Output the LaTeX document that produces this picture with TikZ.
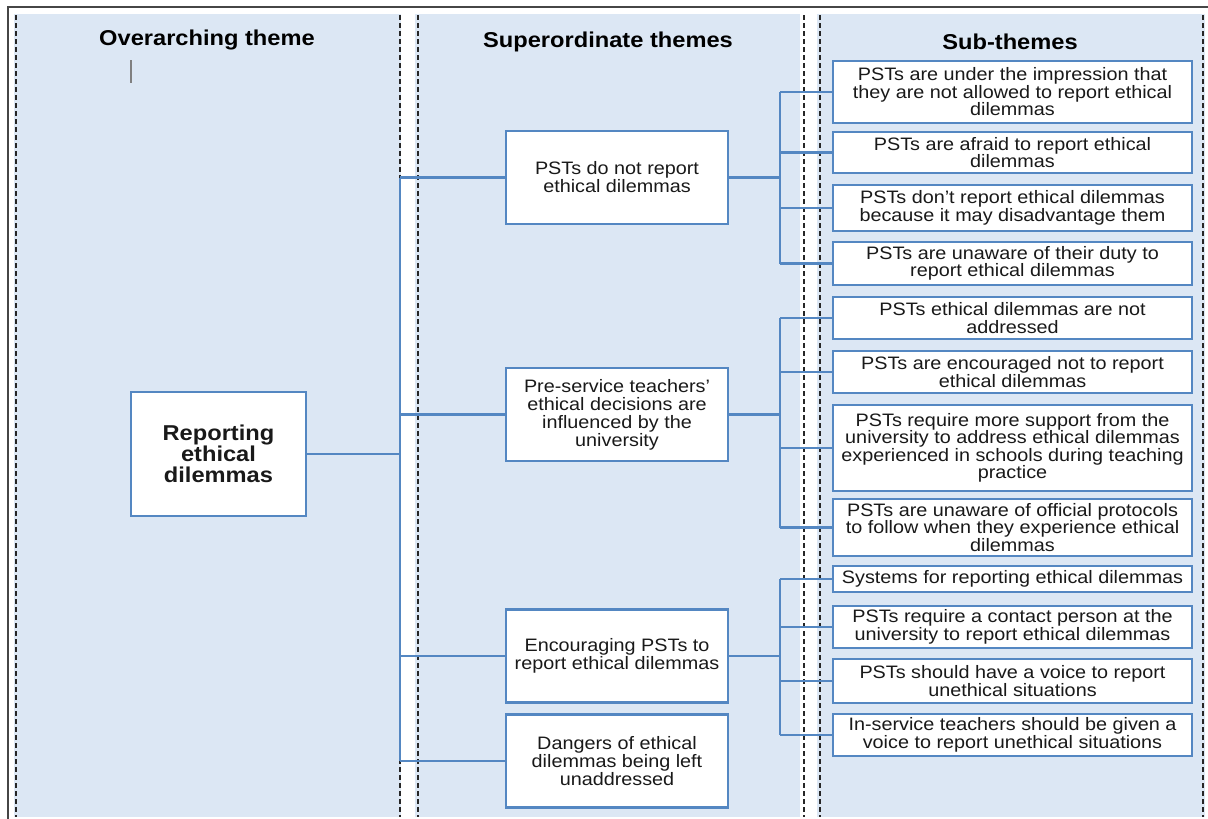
\documentclass[tikz,border=0pt]{standalone}
\usepackage{fontspec}
\setmainfont{Liberation Sans}[FakeStretch=1.1]
\definecolor{panel}{RGB}{220,231,244}
\definecolor{boxline}{RGB}{84,135,194}
\definecolor{framegray}{RGB}{70,70,70}

\begin{document}
\begin{tikzpicture}[x=1pt,y=-1pt,
  coldiv/.style={draw=black!85, line width=1.1pt, dash pattern=on 5pt off 3pt},
  hdr/.style={font=\fontsize{21.5}{24}\selectfont\bfseries, anchor=center},
  themebox/.style={draw=boxline, line width=2.6pt, fill=white, align=center,
    inner sep=1pt, text=black!90},
  mainbox/.style={themebox, font=\fontsize{21.5}{21}\selectfont\bfseries,
    minimum width=175pt, minimum height=124pt},
  supbox/.style={themebox, font=\fontsize{18}{18}\selectfont,
    minimum width=222pt, minimum height=93pt},
  subbox/.style={themebox, font=\fontsize{18}{17.5}\selectfont,
    minimum width=359pt},
  conn/.style={draw=boxline, line width=2.4pt},
]
\useasboundingbox (0,0) rectangle (1208,819);

% column panels
\fill[panel] (14,14) rectangle (401,817);
\fill[panel] (415,14) rectangle (800,817);
\fill[panel] (817,14) rectangle (1205,817);

% dashed column borders
\foreach \x in {16,400,418,804,820,1203}
  \draw[coldiv] (\x,15) -- (\x,817);

% outer frame (top and left edges)
\draw[framegray, line width=2pt] (8,819) -- (8,7) -- (1208,7);

% column headings
\node[hdr] (h1) at (207,40) {Overarching theme};
\node[hdr] (h2) at (608,42) {Superordinate themes};
\node[hdr] (h3) at (1010,42) {Sub-themes};
\draw[gray, line width=1.3pt] (131,60) -- (131,83);

% overarching theme
\node[mainbox] (main) at (218.5,454) {Reporting\\ethical\\dilemmas};

% superordinate themes
\node[supbox] (s1) at (617,177.5) {PSTs do not report\\ethical dilemmas};
\node[supbox] (s2) at (617,414.5) {Pre-service teachers’\\ethical decisions are\\influenced by the\\university};
\node[supbox] (s3) at (617,656) {Encouraging PSTs to\\report ethical dilemmas};
\node[supbox] (s4) at (617,761) {Dangers of ethical\\dilemmas being left\\unaddressed};

% sub-themes
\node[subbox, minimum height=62pt] (a) at (1012.5,92) {PSTs are under the impression that\\they are not allowed to report ethical\\dilemmas};
\node[subbox, minimum height=41pt] (b) at (1012.5,152.5) {PSTs are afraid to report ethical\\dilemmas};
\node[subbox, minimum height=46pt] (c) at (1012.5,208) {PSTs don’t report ethical dilemmas\\because it may disadvantage them};
\node[subbox, minimum height=43pt] (d) at (1012.5,263.5) {PSTs are unaware of their duty to\\report ethical dilemmas};

\node[subbox, minimum height=42pt] (e) at (1012.5,318) {PSTs ethical dilemmas are not\\addressed};
\node[subbox, minimum height=42pt] (f) at (1012.5,372) {PSTs are encouraged not to report\\ethical dilemmas};
\node[subbox, minimum height=86pt] (g) at (1012.5,448) {PSTs require more support from the\\university to address ethical dilemmas\\experienced in schools during teaching\\practice};
\node[subbox, minimum height=57pt] (h) at (1012.5,527.5) {PSTs are unaware of official protocols\\to follow when they experience ethical\\dilemmas};

\node[subbox, minimum height=26pt] (i) at (1012.5,579) {Systems for reporting ethical dilemmas};
\node[subbox, minimum height=42pt] (j) at (1012.5,627) {PSTs require a contact person at the\\university to report ethical dilemmas};
\node[subbox, minimum height=44pt] (k) at (1012.5,681) {PSTs should have a voice to report\\unethical situations};
\node[subbox, minimum height=42pt] (l) at (1012.5,735) {In-service teachers should be given a\\voice to report unethical situations};

% bus positions
\coordinate (trunk) at (400,0);
\coordinate (bus) at (780,0);

% overarching -> superordinate
\draw[conn] (main.east) -- (main.east -| trunk);
\draw[conn] (s1.west -| trunk) -- (s4.west -| trunk);
\foreach \s in {s1,s2,s3,s4}
  \draw[conn] (\s.west -| trunk) -- (\s.west);

% superordinate -> sub-themes
\draw[conn] (s1.east) -- (s1.east -| bus);
\draw[conn] (a.west -| bus) -- (d.west -| bus);
\foreach \t in {a,b,c,d}
  \draw[conn] (\t.west -| bus) -- (\t.west);

\draw[conn] (s2.east) -- (s2.east -| bus);
\draw[conn] (e.west -| bus) -- (h.west -| bus);
\foreach \t in {e,f,g,h}
  \draw[conn] (\t.west -| bus) -- (\t.west);

\draw[conn] (s3.east) -- (s3.east -| bus);
\draw[conn] (i.west -| bus) -- (l.west -| bus);
\foreach \t in {i,j,k,l}
  \draw[conn] (\t.west -| bus) -- (\t.west);
\end{tikzpicture}
\end{document}
